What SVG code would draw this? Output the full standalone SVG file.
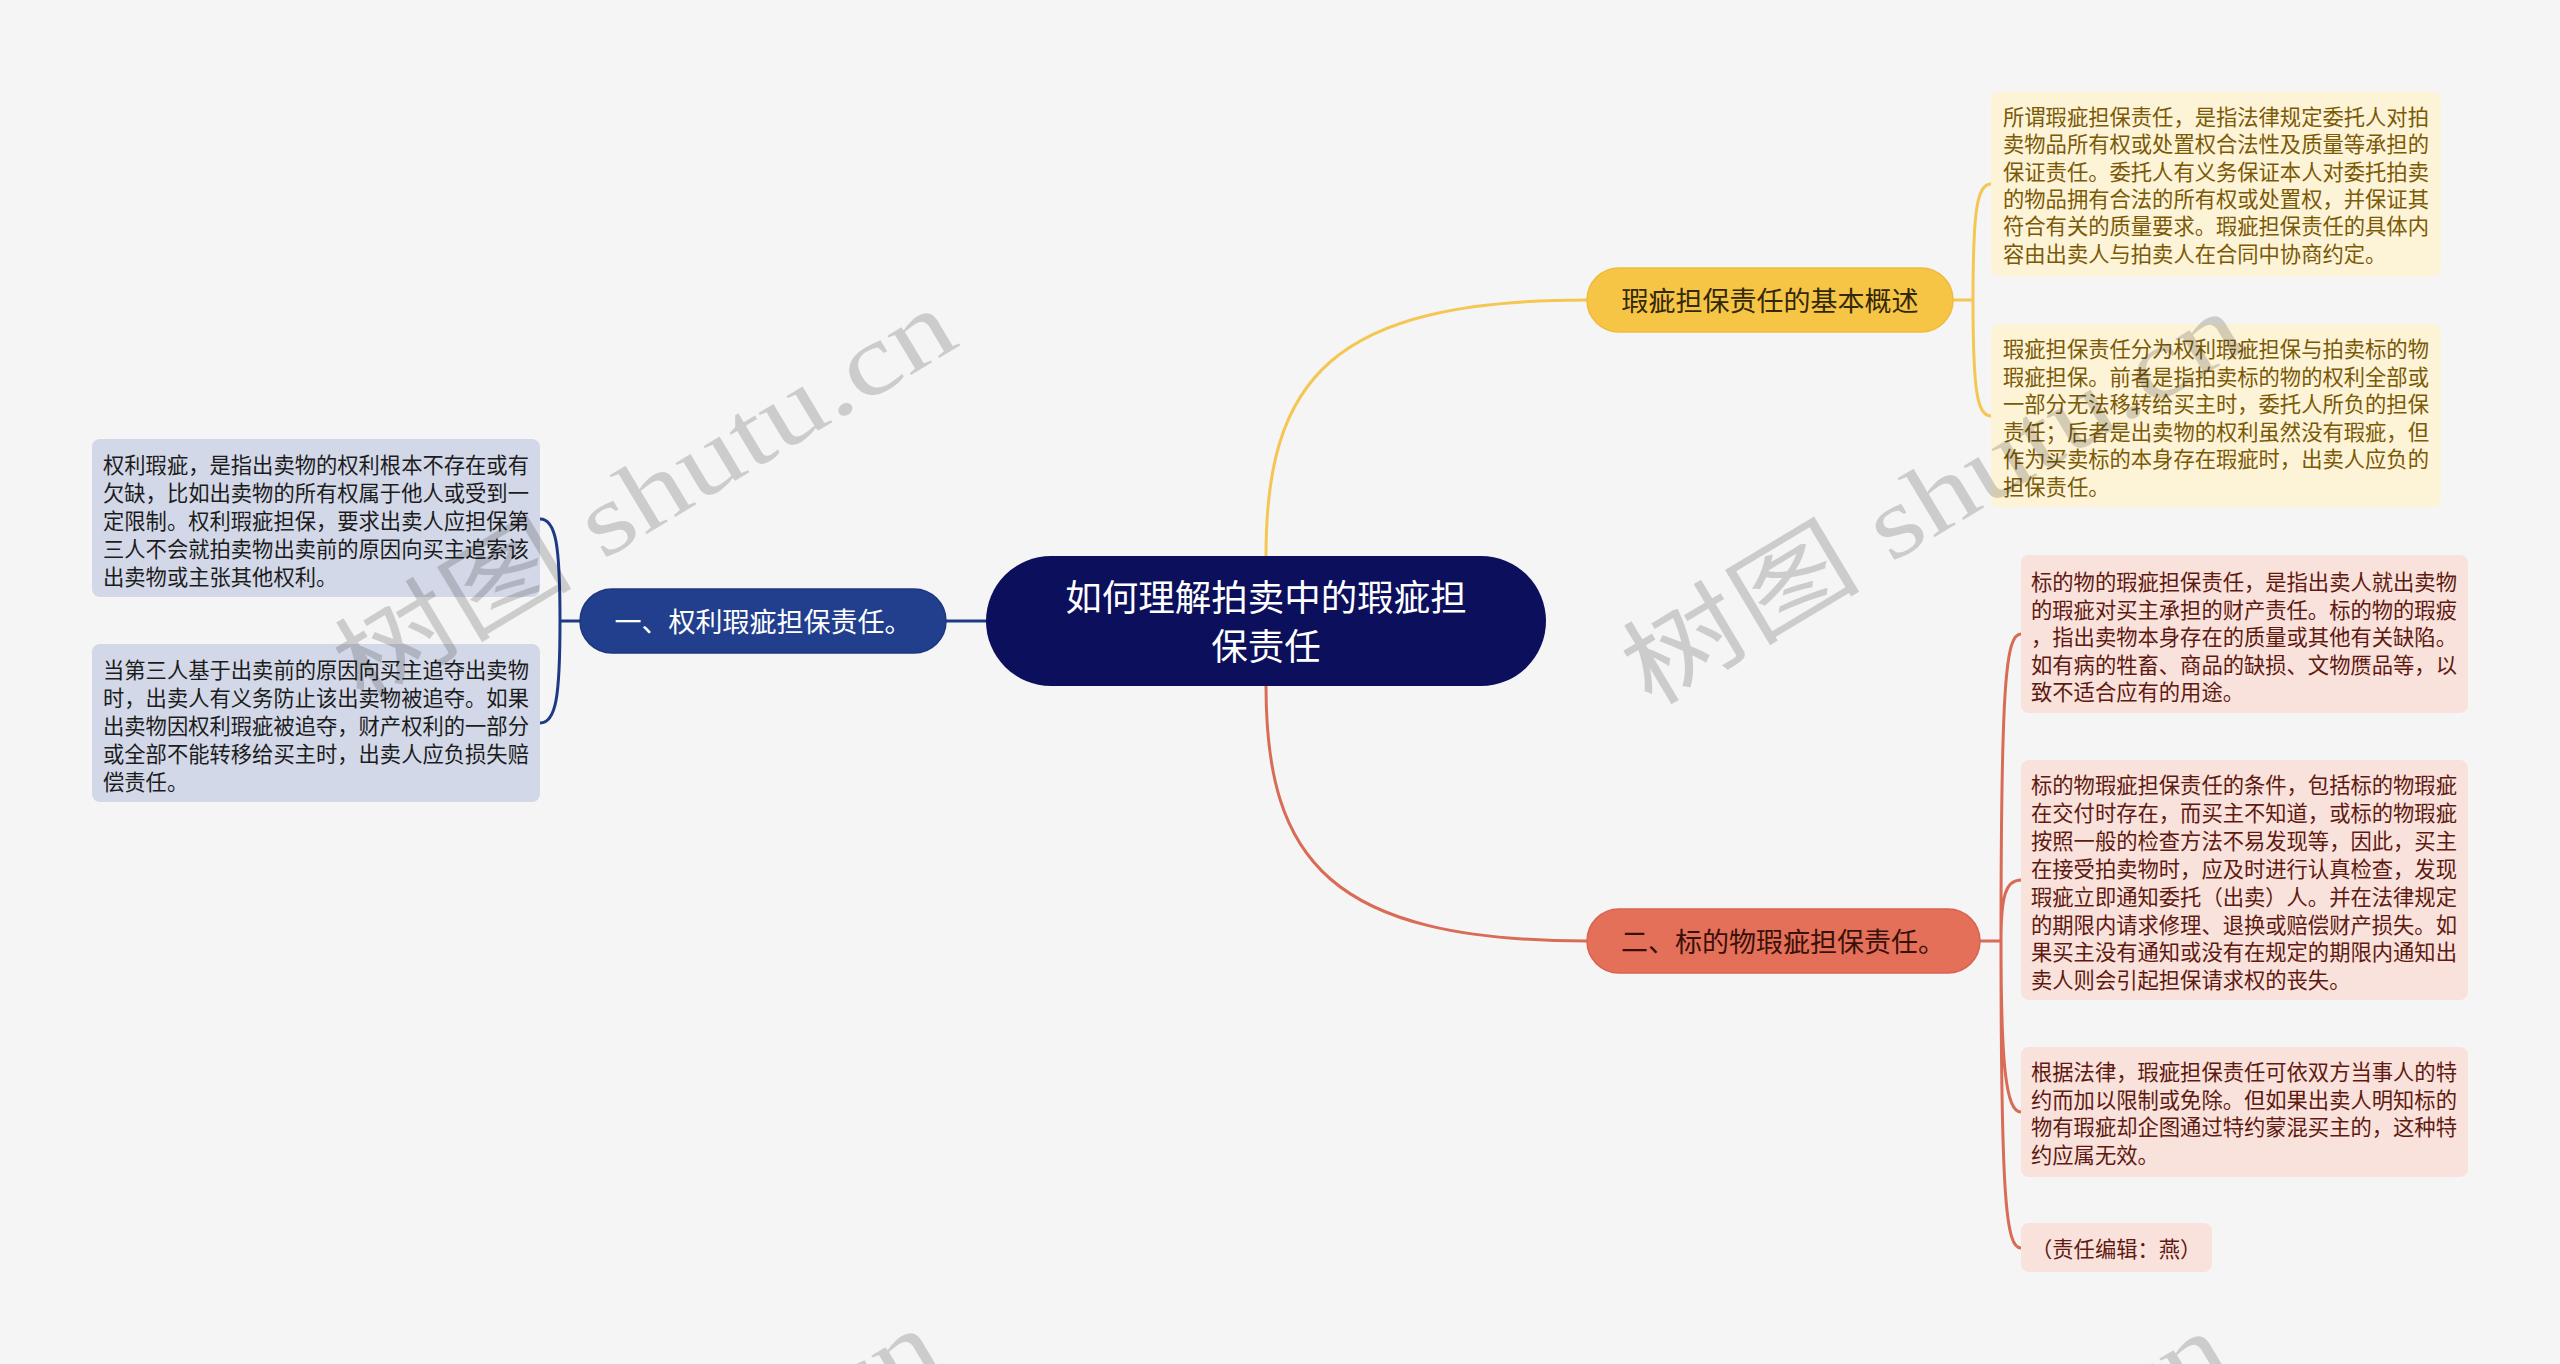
<svg xmlns="http://www.w3.org/2000/svg" width="2560" height="1364" viewBox="0 0 2560 1364">
<style>
.t{font-family:"Noto Sans CJK SC","Noto Sans",sans-serif;}
.leaf{font-size:21.3px;dominant-baseline:central;transform:translate(0px,-2px);}
.br{font-size:27px;dominant-baseline:central;text-anchor:middle;}
.c{fill:none;stroke-width:3;stroke-linecap:round;}
.wm{font-family:"Liberation Serif","Noto Sans CJK SC",serif;font-size:100px;fill:#000;opacity:0.16;}
</style>
<rect x="0" y="0" width="2560" height="1364" fill="#f5f5f6"/>
<g id="connectors">
<path class="c" stroke="#1f3a85" d="M946 621 L986 621"/>
<path class="c" stroke="#1f3a85" d="M580 621 L560 621 M560 621 C560 545 556 519 540 519 M560 621 C560 697 556 723 540 723"/>
<path class="c" stroke="#f4c654" d="M1266 556 C1266 380 1330 300 1587 300"/>
<path class="c" stroke="#f4c654" d="M1953 300 L1973 300 M1973 300 C1973 210 1977 184 1991 184 M1973 300 C1973 390 1977 416 1991 416"/>
<path class="c" stroke="#d86c56" d="M1266 686 C1266 860 1330 941 1587 941"/>
<path class="c" stroke="#d86c56" d="M1980 941 L2001 941 M2001 941 C2001 680 2006 634 2021 634 M2001 941 C2001 895 2006 880 2021 880 M2001 941 C2001 1066 2006 1112 2021 1112 M2001 941 C2001 1200 2006 1248 2021 1248"/>
</g>
<g id="root">
<rect x="986" y="556" width="560" height="130" rx="65" fill="#0b0f5c"/>
<text class="t" x="1266" y="595" font-size="36.5" fill="#ffffff" text-anchor="middle" dominant-baseline="central">如何理解拍卖中的瑕疵担</text>
<text class="t" x="1266" y="644" font-size="36.5" fill="#ffffff" text-anchor="middle" dominant-baseline="central">保责任</text>
</g>
<g id="branch-left">
<rect x="580" y="589" width="366" height="64" rx="32" fill="#223f8e" stroke="#1c3780" stroke-width="1.5"/>
<text class="t br" x="763" y="620" fill="#ffffff">一、权利瑕疵担保责任。</text>
</g>
<g id="branch-yellow">
<rect x="1587" y="268" width="366" height="64" rx="32" fill="#f7c545" stroke="#efbb3c" stroke-width="1.5"/>
<text class="t br" x="1770" y="299" fill="#33290a">瑕疵担保责任的基本概述</text>
</g>
<g id="branch-red">
<rect x="1587" y="909" width="393" height="64" rx="32" fill="#e4705a" stroke="#d86450" stroke-width="1.5"/>
<text class="t br" x="1783" y="940" fill="#3a100b">二、标的物瑕疵担保责任。</text>
</g>
<g id="leaf-left-1">
<rect x="92" y="439" width="448" height="158" rx="8" fill="#d3d8e8"/>
<text class="t leaf" fill="#1c1c1c"><tspan x="103" y="465">权利瑕疵，是指出卖物的权利根本不存在或有</tspan><tspan x="103" y="493">欠缺，比如出卖物的所有权属于他人或受到一</tspan><tspan x="103" y="521">定限制。权利瑕疵担保，要求出卖人应担保第</tspan><tspan x="103" y="549">三人不会就拍卖物出卖前的原因向买主追索该</tspan><tspan x="103" y="577">出卖物或主张其他权利。</tspan></text>
</g>
<g id="leaf-left-2">
<rect x="92" y="644" width="448" height="158" rx="8" fill="#d3d8e8"/>
<text class="t leaf" fill="#1c1c1c"><tspan x="103" y="670">当第三人基于出卖前的原因向买主追夺出卖物</tspan><tspan x="103" y="698">时，出卖人有义务防止该出卖物被追夺。如果</tspan><tspan x="103" y="726">出卖物因权利瑕疵被追夺，财产权利的一部分</tspan><tspan x="103" y="754">或全部不能转移给买主时，出卖人应负损失赔</tspan><tspan x="103" y="782">偿责任。</tspan></text>
</g>
<g id="leaf-yellow-1">
<rect x="1991" y="92" width="450" height="184" rx="8" fill="#fdf3d7"/>
<text class="t leaf" fill="#7a5a06"><tspan x="2003" y="117">所谓瑕疵担保责任，是指法律规定委托人对拍</tspan><tspan x="2003" y="144.3">卖物品所有权或处置权合法性及质量等承担的</tspan><tspan x="2003" y="171.6">保证责任。委托人有义务保证本人对委托拍卖</tspan><tspan x="2003" y="198.9">的物品拥有合法的所有权或处置权，并保证其</tspan><tspan x="2003" y="226.2">符合有关的质量要求。瑕疵担保责任的具体内</tspan><tspan x="2003" y="253.5">容由出卖人与拍卖人在合同中协商约定。</tspan></text>
</g>
<g id="leaf-yellow-2">
<rect x="1991" y="324" width="450" height="183" rx="8" fill="#fdf3d7"/>
<text class="t leaf" fill="#7a5a06"><tspan x="2003" y="349">瑕疵担保责任分为权利瑕疵担保与拍卖标的物</tspan><tspan x="2003" y="376.6">瑕疵担保。前者是指拍卖标的物的权利全部或</tspan><tspan x="2003" y="404.2">一部分无法移转给买主时，委托人所负的担保</tspan><tspan x="2003" y="431.8">责任；后者是出卖物的权利虽然没有瑕疵，但</tspan><tspan x="2003" y="459.4">作为买卖标的本身存在瑕疵时，出卖人应负的</tspan><tspan x="2003" y="487">担保责任。</tspan></text>
</g>
<g id="leaf-red-1">
<rect x="2021" y="555" width="447" height="158" rx="8" fill="#f9e1dc"/>
<text class="t leaf" fill="#5e1a10"><tspan x="2031" y="582">标的物的瑕疵担保责任，是指出卖人就出卖物</tspan><tspan x="2031" y="609.5">的瑕疵对买主承担的财产责任。标的物的瑕疲</tspan><tspan x="2031" y="637">，指出卖物本身存在的质量或其他有关缺陷。</tspan><tspan x="2031" y="664.5">如有病的牲畜、商品的缺损、文物赝品等，以</tspan><tspan x="2031" y="692">致不适合应有的用途。</tspan></text>
</g>
<g id="leaf-red-2">
<rect x="2021" y="760" width="447" height="240" rx="8" fill="#f9e1dc"/>
<text class="t leaf" fill="#5e1a10"><tspan x="2031" y="785">标的物瑕疵担保责任的条件，包括标的物瑕疵</tspan><tspan x="2031" y="812.9">在交付时存在，而买主不知道，或标的物瑕疵</tspan><tspan x="2031" y="840.8">按照一般的检查方法不易发现等，因此，买主</tspan><tspan x="2031" y="868.7">在接受拍卖物时，应及时进行认真检查，发现</tspan><tspan x="2031" y="896.6">瑕疵立即通知委托（出卖）人。并在法律规定</tspan><tspan x="2031" y="924.5">的期限内请求修理、退换或赔偿财产损失。如</tspan><tspan x="2031" y="952.4">果买主没有通知或没有在规定的期限内通知出</tspan><tspan x="2031" y="980.3">卖人则会引起担保请求权的丧失。</tspan></text>
</g>
<g id="leaf-red-3">
<rect x="2021" y="1047" width="447" height="130" rx="8" fill="#f9e1dc"/>
<text class="t leaf" fill="#5e1a10"><tspan x="2031" y="1072">根据法律，瑕疵担保责任可依双方当事人的特</tspan><tspan x="2031" y="1099.7">约而加以限制或免除。但如果出卖人明知标的</tspan><tspan x="2031" y="1127.4">物有瑕疵却企图通过特约蒙混买主的，这种特</tspan><tspan x="2031" y="1155.1">约应属无效。</tspan></text>
</g>
<g id="leaf-red-4">
<rect x="2021" y="1223" width="191" height="49" rx="8" fill="#f9e1dc"/>
<text class="t leaf" fill="#5e1a10" x="2031" y="1249">（责任编辑：燕）</text>
</g>
<g id="watermarks">
<text class="wm" transform="translate(362 705) rotate(-31)" textLength="700" lengthAdjust="spacingAndGlyphs">树图 shutu.cn</text>
<text class="wm" transform="translate(1650 708) rotate(-31)" textLength="700" lengthAdjust="spacingAndGlyphs">树图 shutu.cn</text>
<text class="wm" transform="translate(346 1725) rotate(-31)" textLength="700" lengthAdjust="spacingAndGlyphs">树图 shutu.cn</text>
<text class="wm" transform="translate(1634 1728) rotate(-31)" textLength="700" lengthAdjust="spacingAndGlyphs">树图 shutu.cn</text>
</g>
</svg>
